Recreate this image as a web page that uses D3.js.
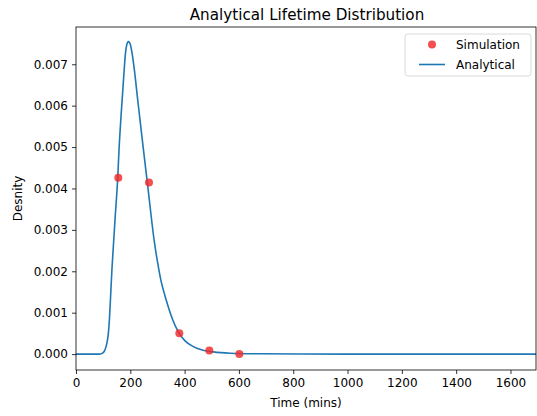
<!DOCTYPE html>
<html>
<head>
<meta charset="utf-8">
<script src="https://cdn.jsdelivr.net/npm/d3@7"></script>
<style>
  html, body { margin: 0; padding: 0; background: #fff; }
  text { font-family: "DejaVu Sans", sans-serif; }
</style>
</head>
<body>
<svg id="chart" width="537" height="416"></svg>
<script>
// Analytical curve (time in mins, density)
const curveTime = [0, 80, 90, 98, 105, 110.5, 116, 119.7, 123.4, 127.1, 132.6, 136.3, 143.6, 153.6, 158.4, 168.3, 177.9, 181.6, 185.3, 188.9, 192.6, 196.3, 200.7, 206.3, 213.6, 227.3, 242, 263.7, 289.1, 300.2, 313.1, 327.8, 340, 353.6, 376.8, 401.5, 432, 467.8, 505.7, 567.2, 677.7, 825, 1000, 1700];
const curveDensity = [0, 0, 0.000004, 0.000022, 0.000077, 0.000181, 0.000343, 0.000536, 0.000874, 0.001357, 0.002081, 0.002468, 0.00324, 0.004255, 0.00493, 0.00599, 0.00691, 0.007225, 0.007418, 0.007514, 0.007546, 0.007531, 0.007466, 0.007273, 0.006935, 0.006138, 0.005293, 0.004086, 0.002685, 0.002226, 0.001768, 0.001405, 0.00114, 0.000874, 0.000536, 0.000319, 0.000181, 0.000094, 0.000053, 0.000022, 0.000007, 0.000002, 0.0000005, 0];

// Simulation points
const simTime = [155.8, 268.9, 380.5, 491, 601.5];
const simDensity = [0.00426, 0.004146, 0.000505, 0.000085, 0.000005];

const xTicks = [0, 200, 400, 600, 800, 1000, 1200, 1400, 1600];
const yTicks = [0.000, 0.001, 0.002, 0.003, 0.004, 0.005, 0.006, 0.007];

const titleText = "Analytical Lifetime Distribution";
const xLabel = "Time (mins)";
const yLabel = "Desnity";
const legendLabels = ["Simulation", "Analytical"];

const svg = d3.select("#chart");
const mL = 76, mR = 536, mT = 27, mB = 370;

const x = d3.scaleLinear().domain([0, 1694]).range([mL, mR]);
const y = d3.scaleLinear().domain([-0.000384, 0.0079]).range([mB, mT]);

const lineColor = "#1f77b4";
const dotColor = "rgba(240, 40, 40, 0.82)";

// clip
svg.append("clipPath").attr("id", "clip")
  .append("rect").attr("x", mL).attr("y", mT).attr("width", mR - mL).attr("height", mB - mT);

const pts = curveTime.map((t, i) => [t, curveDensity[i]]);
const line = d3.line().x(d => x(d[0])).y(d => y(d[1])).curve(d3.curveMonotoneX);

svg.append("path")
  .attr("clip-path", "url(#clip)")
  .attr("d", line(pts))
  .attr("fill", "none")
  .attr("stroke", lineColor)
  .attr("stroke-width", 1.6);

svg.append("g").selectAll("circle")
  .data(simTime.map((t, i) => [t, simDensity[i]]))
  .join("circle")
  .attr("cx", d => x(d[0]))
  .attr("cy", d => y(d[1]))
  .attr("r", 4)
  .attr("fill", dotColor);

// axes
const xAxis = d3.axisBottom(x).tickValues(xTicks).tickFormat(d3.format("d")).tickSize(4).tickPadding(4);
const yAxis = d3.axisLeft(y).tickValues(yTicks).tickFormat(d3.format(".3f")).tickSize(4).tickPadding(4);

const gx = svg.append("g").attr("transform", `translate(0,${mB})`).call(xAxis);
const gy = svg.append("g").attr("transform", `translate(${mL},0)`).call(yAxis);
[gx, gy].forEach(g => {
  g.select(".domain").remove();
  g.selectAll("text").attr("font-size", 12).attr("fill", "#000").attr("font-family", "DejaVu Sans, sans-serif");
  g.selectAll("line").attr("stroke", "#000").attr("stroke-width", 0.8);
});

// frame
svg.append("rect")
  .attr("x", mL).attr("y", mT).attr("width", mR - mL).attr("height", mB - mT)
  .attr("fill", "none").attr("stroke", "#000").attr("stroke-width", 0.8);

// title & labels
svg.append("text").attr("x", (mL + mR) / 2 + 1).attr("y", 20)
  .attr("text-anchor", "middle").attr("font-size", 15.2).text(titleText);
svg.append("text").attr("x", (mL + mR) / 2).attr("y", 407)
  .attr("text-anchor", "middle").attr("font-size", 12).text(xLabel);
svg.append("text").attr("transform", `translate(22,${(mT + mB) / 2}) rotate(-90)`)
  .attr("text-anchor", "middle").attr("font-size", 12).text(yLabel);

// legend
const lg = svg.append("g");
lg.append("rect").attr("x", 405).attr("y", 34).attr("width", 126).attr("height", 42)
  .attr("rx", 3).attr("fill", "rgba(255,255,255,0.8)").attr("stroke", "#d0d0d0").attr("stroke-width", 0.8);
lg.append("circle").attr("cx", 432).attr("cy", 44.5).attr("r", 4).attr("fill", dotColor);
lg.append("line").attr("x1", 419).attr("x2", 445).attr("y1", 64.5).attr("y2", 64.5)
  .attr("stroke", lineColor).attr("stroke-width", 1.6);
lg.append("text").attr("x", 456).attr("y", 49).attr("font-size", 12).text(legendLabels[0]);
lg.append("text").attr("x", 456).attr("y", 69).attr("font-size", 12).text(legendLabels[1]);
</script>
</body>
</html>
